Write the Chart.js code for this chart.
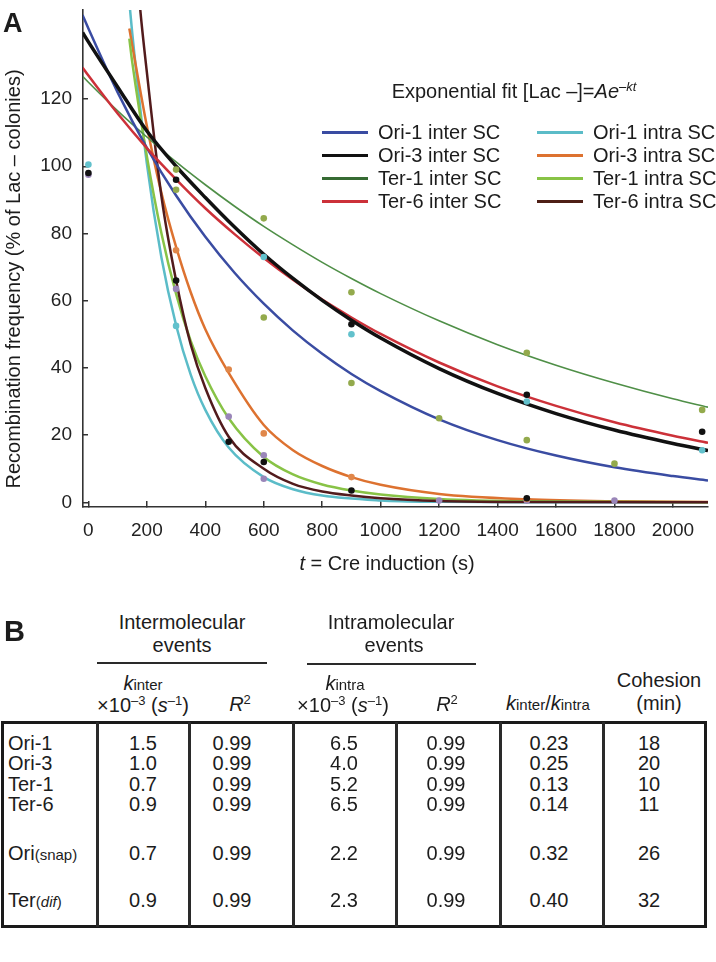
<!DOCTYPE html>
<html>
<head>
<meta charset="utf-8">
<script src="https://cdn.jsdelivr.net/npm/chart.js@4.4.1/dist/chart.umd.min.js"></script>
<style>
  body { margin: 0; background: #fff; }
  #page { position: relative; width: 716px; height: 962px; overflow: hidden;
          font-family: "Liberation Sans", Arial, sans-serif; color: #1c1c1c; }
  #plot { position: absolute; left: 0; top: 0; }
  .t { position: absolute; white-space: nowrap; line-height: 1; font-size: 20px; }
  .sup { font-size: 0.65em; position: relative; top: -0.55em; }
  .small { font-size: 15px; }
  .rule { position: absolute; background: #2a2a2a; }
</style>
</head>
<body>
<div id="page">
  <canvas id="plot" width="716" height="580"></canvas>
</div>
<script>
// ---- panel A data ----
const xTicks = [0, 200, 400, 600, 800, 1000, 1200, 1400, 1600, 1800, 2000];
const yTicks = [0, 20, 40, 60, 80, 100, 120];

const seriesNames = [
  "Ori-1 inter SC", "Ori-3 inter SC", "Ter-1 inter SC", "Ter-6 inter SC",
  "Ori-1 intra SC", "Ori-3 intra SC", "Ter-1 intra SC", "Ter-6 intra SC"
];

// fitted curves (% of Lac- colonies vs t in s)
const interT = [-20, 0, 100, 200, 300, 400, 500, 600, 700, 800, 900, 1000, 1200, 1400, 1600, 1800, 2000, 2120];
const ori1Inter = [145, 141, 122, 105.5, 91.3, 79, 68.3, 59.1, 51.1, 44.2, 38.2, 33.1, 24.7, 18.5, 13.9, 10.4, 7.8, 6.5];
const ori3Inter = [139.8, 137, 123.6, 110.5, 100, 90.7, 81.9, 73.8, 66.6, 60.1, 54.2, 48.9, 39.8, 32.4, 26.4, 21.5, 17.5, 15.4];
const ter1Inter = [126.8, 125, 116.5, 108.7, 101.3, 94.5, 88.1, 82.1, 76.6, 71.4, 66.6, 62.1, 54, 46.9, 40.8, 35.5, 30.8, 28.3];
const ter6Inter = [129.4, 127, 115.7, 105.4, 96.1, 87.5, 79.8, 72.7, 66.2, 60.3, 55, 50.1, 41.6, 34.5, 28.7, 23.8, 19.8, 17.7];

const ori1IntraT = [140, 150, 200, 250, 300, 350, 400, 480, 600, 700, 800, 1000, 1200, 1500, 2120];
const ori1Intra  = [149, 139.6, 100.8, 72.8, 52.7, 38, 27.5, 16.3, 7.5, 3.9, 2, 0.56, 0.15, 0.02, 0];
const ori3IntraT = [140, 150, 200, 250, 300, 350, 400, 480, 600, 700, 800, 900, 1000, 1200, 1500, 1800, 2120];
const ori3Intra  = [141, 136, 112, 92, 76, 62.5, 51.5, 38.5, 23, 15.5, 10.8, 7.5, 5.2, 2.5, 0.9, 0.3, 0.1];
const ter1IntraT = [140, 150, 200, 250, 300, 350, 400, 480, 600, 700, 800, 900, 1000, 1200, 1500, 2120];
const ter1Intra  = [138, 131, 103, 80, 62, 48, 37.5, 25, 13.5, 8.3, 5.3, 3.5, 2.3, 1, 0.3, 0.05];
const ter6IntraT = [140, 177, 200, 250, 300, 350, 400, 480, 600, 700, 800, 900, 1000, 1200, 1500, 2120];
const ter6Intra  = [187, 147, 128, 91, 66, 47, 34, 19.5, 10, 5.5, 3.2, 2, 1.2, 0.4, 0.1, 0];

// measured points, grouped by dot colour
const blackT = [0, 300, 300, 480, 600, 900, 900, 1500, 1500, 2100];
const blackV = [98, 96, 66, 18, 12, 53, 3.5, 32, 1.2, 21];
const oliveT = [300, 300, 600, 600, 900, 900, 1200, 1500, 1500, 1800, 2100];
const oliveV = [93, 99, 84.5, 55, 62.5, 35.5, 25, 44.5, 18.5, 11.5, 27.5];
const cyanT = [0, 300, 600, 900, 1500, 2100];
const cyanV = [100.5, 52.5, 73, 50, 30, 15.5];
const orangeT = [300, 480, 600, 900, 1500];
const orangeV = [75, 39.5, 20.5, 7.5, 1];
const purpleT = [0, 300, 480, 600, 600, 1200, 1500, 1800];
const purpleV = [97.5, 63.5, 25.5, 7, 14, 0.5, 0.5, 0.5];

// ---- panel B data ----
const rowNames  = ["Ori-1", "Ori-3", "Ter-1", "Ter-6", "Ori", "Ter"];
const rowSuffix = ["", "", "", "", "(snap)", "(<i>dif</i>)"];
const kInter   = ["1.5", "1.0", "0.7", "0.9", "0.7", "0.9"];
const r2Inter  = ["0.99", "0.99", "0.99", "0.99", "0.99", "0.99"];
const kIntra   = ["6.5", "4.0", "5.2", "6.5", "2.2", "2.3"];
const r2Intra  = ["0.99", "0.99", "0.99", "0.99", "0.99", "0.99"];
const kRatio   = ["0.23", "0.25", "0.13", "0.14", "0.32", "0.40"];
const cohesion = ["18", "20", "10", "11", "26", "32"];

// ---- styles ----
const curveColors = ["#3a4ca2", "#111111", "#4f8f47", "#cc3139", "#5bbcc8", "#dd7230", "#88c346", "#521b1c"];
const legendColors = ["#3a4ca2", "#111111", "#366b33", "#cc3139", "#5bbcc8", "#dd7230", "#88c346", "#4e1f16"];
const curveWidths = [2.5, 3.5, 1.6, 2.5, 2.5, 2.5, 2.5, 2.5];

const pairs = (ts, vs) => ts.map((t, i) => ({ x: t, y: vs[i] }));

const curveData = [
  pairs(interT, ori1Inter), pairs(interT, ori3Inter), pairs(interT, ter1Inter), pairs(interT, ter6Inter),
  pairs(ori1IntraT, ori1Intra), pairs(ori3IntraT, ori3Intra), pairs(ter1IntraT, ter1Intra), pairs(ter6IntraT, ter6Intra)
];

function dots(ts, vs, color) {
  return {
    label: "",
    data: pairs(ts, vs),
    showLine: false,
    pointRadius: 3.3,
    pointBorderWidth: 0,
    pointBackgroundColor: color,
    borderColor: color
  };
}

const datasets = [
  dots(blackT, blackV, "#111111"),
  dots(oliveT, oliveV, "#93aa4c"),
  dots(cyanT, cyanV, "#62c1cc"),
  dots(orangeT, orangeV, "#e0874a"),
  dots(purpleT, purpleV, "#9a86b9")
];
// draw order: thick black on top of the other curves
[1, 3, 0, 2, 7, 6, 5, 4].forEach(i => {
  datasets.push({
    label: seriesNames[i],
    data: curveData[i],
    borderColor: curveColors[i],
    borderWidth: curveWidths[i],
    pointRadius: 0,
    fill: false,
    cubicInterpolationMode: "monotone"
  });
});

const axisColor = "#333333";
const tickFont = { family: "'Liberation Sans', Arial, sans-serif", size: 19 };

new Chart(document.getElementById("plot").getContext("2d"), {
  type: "line",
  data: { datasets },
  options: {
    responsive: false,
    animation: false,
    layout: { padding: { top: 10, right: 8, left: 0, bottom: 0 } },
    plugins: { legend: { display: false }, tooltip: { enabled: false } },
    scales: {
      x: {
        type: "linear",
        min: -18.5,
        max: 2120,
        afterBuildTicks: s => { s.ticks = xTicks.map(v => ({ value: v })); },
        afterFit: s => { s.height = 73; s.paddingLeft = 0; s.paddingRight = 0; },
        grid: { drawOnChartArea: false, drawTicks: true, tickLength: -6, color: axisColor, lineWidth: 1.5 },
        border: { color: axisColor, width: 1.6 },
        ticks: { color: "#222", font: tickFont, padding: 18, autoSkip: false, maxRotation: 0,
                 callback: v => String(v) }
      },
      y: {
        type: "linear",
        min: -1.4,
        max: 146.5,
        afterBuildTicks: s => { s.ticks = yTicks.map(v => ({ value: v })); },
        afterFit: s => { s.width = 83; s.paddingTop = 0; s.paddingBottom = 0; },
        grid: { drawOnChartArea: false, drawTicks: true, tickLength: -5, color: axisColor, lineWidth: 1.5 },
        border: { color: axisColor, width: 1.6 },
        ticks: { color: "#222", font: tickFont, padding: 16, callback: v => String(v) }
      }
    }
  }
});

// ---- text overlays ----
const page = document.getElementById("page");

function put(html, x, y, css, align) {
  const d = document.createElement("div");
  d.className = "t";
  d.innerHTML = html;
  d.style.left = x + "px";
  d.style.top = y + "px";
  const tx = align === "left" ? "0" : "-50%";
  d.style.transform = "translate(" + tx + ",-50%)";
  if (css) d.style.cssText += css;
  page.appendChild(d);
  return d;
}

function rule(x, y, w, h) {
  const d = document.createElement("div");
  d.className = "rule";
  d.style.left = x + "px";
  d.style.top = y + "px";
  d.style.width = w + "px";
  d.style.height = h + "px";
  page.appendChild(d);
}

// panel A labels
put("A", 3, 23, "font-size:27px;font-weight:bold;", "left");
put("Recombination frequency (% of Lac – colonies)", 13, 279,
    "transform:translate(-50%,-50%) rotate(-90deg);");
put("<i>t</i> = Cre induction (s)", 387, 563);
put('Exponential fit [Lac –]=<i>Ae</i><span class="sup"><i>–kt</i></span>', 514, 91);

// legend, two columns of four
const legendCols = [322, 537];
const legendRows = [132, 155, 178, 201];
seriesNames.forEach((name, i) => {
  const col = Math.floor(i / 4), row = i % 4;
  rule(legendCols[col], legendRows[row] - 1.5, 46, 3.5);
  page.lastChild.style.background = legendColors[i];
  put(name, legendCols[col] + 56, legendRows[row], "", "left");
});

// panel B
put("B", 4, 631, "font-size:29px;font-weight:bold;", "left");
put("Intermolecular", 182, 622);
put("events", 182, 645);
rule(97, 662, 170, 2);
put("Intramolecular", 391, 622);
put("events", 394, 645);
rule(307, 663, 169, 2);

put('<i>k</i><span class="small">inter</span>', 143, 683);
put('×10<span class="sup">–3</span> (<i>s</i><span class="sup">–1</span>)', 143, 705);
put('<i>R</i><span class="sup">2</span>', 240, 704);
put('<i>k</i><span class="small">intra</span>', 345, 683);
put('×10<span class="sup">–3</span> (<i>s</i><span class="sup">–1</span>)', 343, 705);
put('<i>R</i><span class="sup">2</span>', 447, 704);
put('<i>k</i><span class="small">inter</span>/<i>k</i><span class="small">intra</span>', 548, 703);
put("Cohesion", 659, 680);
put("(min)", 659, 703);

// table frame
const box = document.createElement("div");
box.style.cssText = "position:absolute;left:1px;top:721px;width:706px;height:207px;border:3px solid #1a1a1a;box-sizing:border-box;";
page.appendChild(box);
const colLines = [97, 189, 293, 396, 500, 603];
colLines.forEach(x => rule(x - 1, 722, 2.5, 205));

const rowY = [743, 763, 784, 804, 853, 900];
const colX = [143, 232, 344, 446, 549, 649];
const cols = [kInter, r2Inter, kIntra, r2Intra, kRatio, cohesion];
rowNames.forEach((name, r) => {
  const suffix = rowSuffix[r] ? '<span class="small">' + rowSuffix[r] + "</span>" : "";
  put(name + suffix, 8, rowY[r], "", "left");
  cols.forEach((col, c) => put(col[r], colX[c], rowY[r]));
});
</script>
</body>
</html>
